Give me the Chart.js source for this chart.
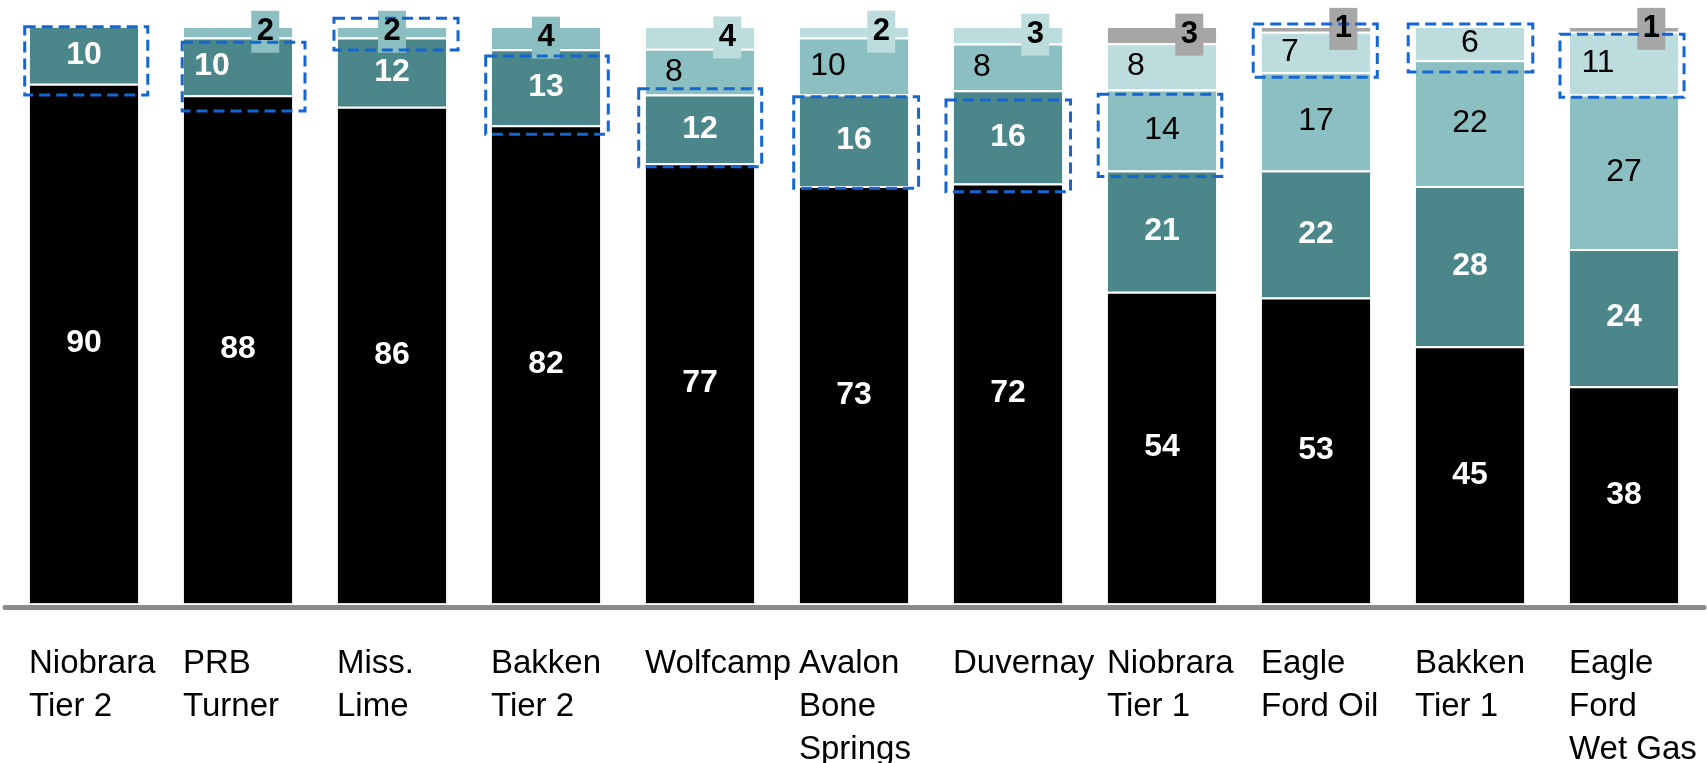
<!DOCTYPE html>
<html><head><meta charset="utf-8">
<script src="https://cdn.jsdelivr.net/npm/chart.js@4/dist/chart.umd.min.js"></script>
<style>html,body{margin:0;padding:0;background:#fff;overflow:hidden}</style>
</head><body>
<canvas id="c" width="1707" height="763"></canvas>
<script>
// ---- data ----
const categories = [["Niobrara","Tier 2"],["PRB","Turner"],["Miss.","Lime"],["Bakken","Tier 2"],["Wolfcamp"],["Avalon","Bone","Springs"],["Duvernay"],["Niobrara","Tier 1"],["Eagle","Ford Oil"],["Bakken","Tier 1"],["Eagle","Ford","Wet Gas"]];
const seriesBlack     = [90,88,86,82,77,73,72,54,53,45,38];
const seriesDarkTeal  = [10,10,12,13,12,16,16,21,22,28,24];
const seriesMidTeal   = [0,2,2,4,8,10,8,14,17,22,27];
const seriesLightTeal = [0,0,0,0,4,2,3,8,7,6,11];
const seriesGrey      = [0,0,0,0,0,0,0,3,1,0,1];
const highlightedSegment = [1,1,2,1,1,1,1,2,3,3,3];

// ---- styling ----
const FONT = '"Liberation Sans", Arial, sans-serif';
const segColors = ['#000000','#4b878a','#8bbfc1','#bcdcdd','#a6a6a6'];
const seriesList = [seriesBlack, seriesDarkTeal, seriesMidTeal, seriesLightTeal, seriesGrey];
const totals = categories.map((_, i) => seriesList.reduce((s, a) => s + a[i], 0));

const annotPlugin = {
  id: 'annot',
  afterDatasetsDraw(chart, args, o) {
    const ctx = chart.ctx;
    const ca = chart.chartArea;
    const base0 = chart.scales.y.getPixelForValue(0);
    ctx.save();
    // axis line
    ctx.strokeStyle = o.axisColor; ctx.lineWidth = 5; ctx.lineCap = 'round';
    ctx.beginPath(); ctx.moveTo(ca.left - 2, base0 + 4); ctx.lineTo(ca.right + 3, base0 + 4); ctx.stroke();

    const texts = [];
    categories.forEach((c, i) => {
      let boxed = -1;
      seriesList.forEach((s, d) => { if (s[i] > 0 && s[i] <= 4) boxed = d; });
      let below = -1;
      if (boxed >= 0 && o.smallAlign[i] === 'right') {
        for (let d = boxed - 1; d >= 0; d--) if (seriesList[d][i] > 0) { below = d; break; }
      }
      seriesList.forEach((s, d) => {
        const v = s[i];
        if (!v) return;
        const el = chart.getDatasetMeta(d).data[i];
        const top = Math.min(el.y, el.base), bot = Math.max(el.y, el.base);
        const cy = (top + bot) / 2;
        if (v <= 4) {
          const cx = o.smallAlign[i] === 'center' ? el.x : el.x + el.width / 2 - o.smallInset - o.smallW / 2;
          ctx.fillStyle = segColors[d];
          ctx.fillRect(cx - o.smallW / 2, cy - o.smallH / 2, o.smallW, o.smallH);
          texts.push({t: String(v), x: cx, y: cy, color: '#000', bold: true, size: 31});
        } else {
          const x = el.x - (d === below ? o.shift : 0);
          texts.push({t: String(v), x, y: cy, color: d < 2 ? '#fff' : '#000', bold: d < 2, size: 32});
        }
      });
    });

    // dashed highlight boxes
    ctx.strokeStyle = o.dashColor; ctx.lineWidth = 3; ctx.setLineDash([11, 6]); ctx.lineCap = 'butt';
    highlightedSegment.forEach((d, i) => {
      const el = chart.getDatasetMeta(d).data[i];
      const top = Math.min(el.y, el.base), bot = Math.max(el.y, el.base);
      const a = o.boxAdjust[i];
      const l = el.x - el.width / 2 + a[0], r = el.x + el.width / 2 + a[1];
      const t = top + a[2], b = bot + a[3];
      ctx.strokeRect(l, t, r - l, b - t);
    });
    ctx.setLineDash([]);

    ctx.textAlign = 'center'; ctx.textBaseline = 'middle';
    texts.forEach(tx => {
      ctx.font = (tx.bold ? 'bold ' : '') + tx.size + 'px ' + FONT;
      ctx.fillStyle = tx.color;
      ctx.fillText(tx.t, tx.x, tx.y);
    });
    ctx.restore();
  }
};

const datasets = seriesList.map((s, d) => ({
  label: 'S' + d,
  data: s.map((v, i) => v / totals[i] * 100),
  backgroundColor: segColors[d],
  borderColor: '#ffffff',
  borderWidth: {top: 2, left: 0, right: 0, bottom: 0},
  borderSkipped: false,
  barPercentage: 0.705,
  categoryPercentage: 1.0
}));

new Chart(document.getElementById('c'), {
  type: 'bar',
  data: { labels: categories, datasets },
  options: {
    responsive: false,
    animation: false,
    devicePixelRatio: 1,
    layout: { padding: { left: 7, right: 6, top: 26, bottom: 0 } },
    plugins: {
      legend: { display: false },
      tooltip: { enabled: false },
      annot: {
        axisColor: '#8a8a8a',
        dashColor: '#1466d2',
        smallAlign: ['right','right','center','center','right','right','right','right','right','right','right'],
        smallInset: 13, smallW: 28, smallH: 42, shift: 26,
        boxAdjust: [[-5,9.5,0.7,11.3],[-1.5,12.7,4.7,15.7],[-3.75,11.75,-7.7,12.4],[-6,8,6.7,9.1],[-7,7.4,-5.9,3.5],[-6,10.3,2.1,2.2],[-7.75,8.25,9.8,8.2],[-9.5,5.5,4.8,6],[-8.5,7,-7.8,5.1],[-7.5,8.5,-2,11.7],[-9.75,5.75,2.6,2.7]]
      }
    },
    scales: {
      x: {
        stacked: true,
        grid: { display: false, drawTicks: false },
        border: { display: false },
        ticks: { autoSkip: false, maxRotation: 0, minRotation: 0, align: 'start', labelOffset: -55, padding: 39, color: '#000',
                 font: { family: FONT, size: 33, lineHeight: 1.3 } },
        afterFit: (s) => { s.height = 159.5; s.paddingLeft = 0; s.paddingRight = 0; }
      },
      y: { stacked: true, display: false, min: 0, max: 100 }
    }
  },
  plugins: [annotPlugin]
});
</script>
</body></html>
